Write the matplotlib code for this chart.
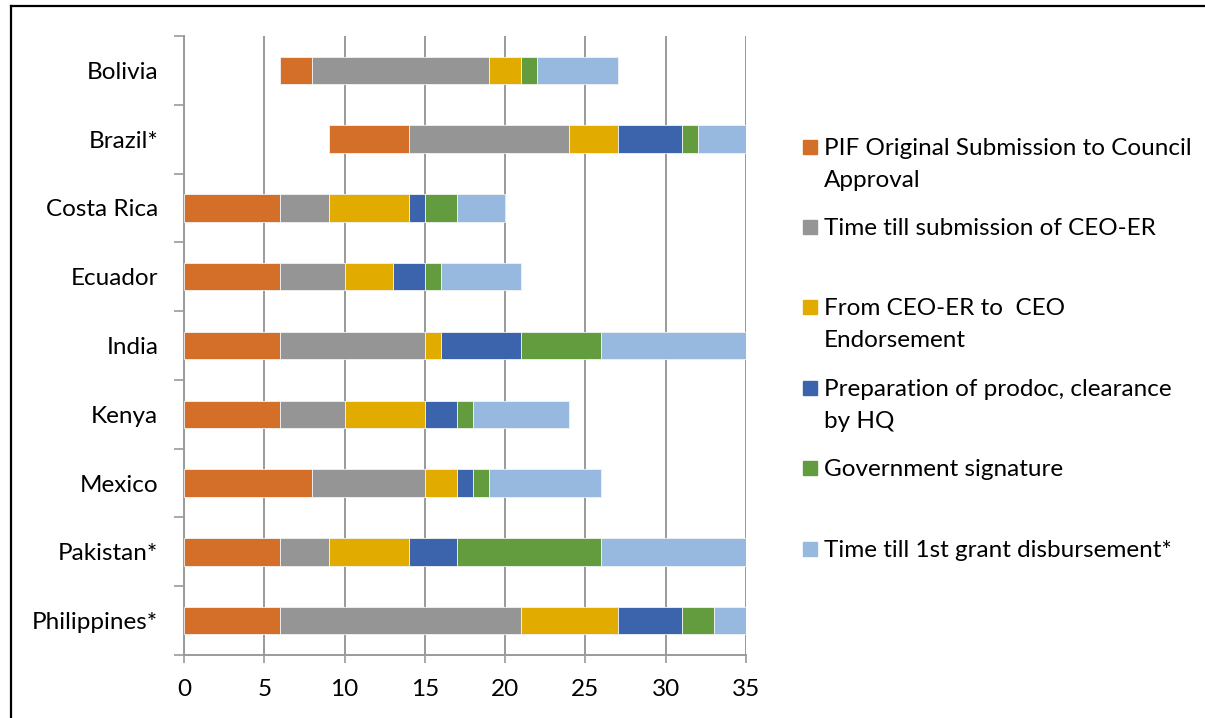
import numpy as np
import matplotlib.pyplot as plt
from matplotlib.patches import Rectangle
from matplotlib.lines import Line2D

plt.rcParams['font.family'] = ['Lato', 'DejaVu Sans']

# data (months)
countries = ['Bolivia', 'Brazil*', 'Costa Rica', 'Ecuador', 'India',
             'Kenya', 'Mexico', 'Pakistan*', 'Philippines*']
start_offset = [6, 9, 0, 0, 0, 0, 0, 0, 0]   # hidden first series
pif_to_council = [2, 5, 6, 6, 6, 6, 8, 6, 6]
till_ceo_er = [11, 10, 3, 4, 9, 4, 7, 3, 15]
ceo_er_to_endorse = [2, 3, 5, 3, 1, 5, 2, 5, 6]
prodoc_clearance = [0, 4, 1, 2, 5, 2, 1, 3, 4]
gov_signature = [1, 1, 2, 1, 5, 1, 1, 9, 2]
till_disbursement = [5, 3, 3, 5, 9, 6, 7, 9, 2]

series_labels = [
    'PIF Original Submission to Council\nApproval',
    'Time till submission of CEO-ER',
    'From CEO-ER to  CEO\nEndorsement',
    'Preparation of prodoc, clearance\nby HQ',
    'Government signature',
    'Time till 1st grant disbursement*',
]
colors = ['#D46F2A', '#959595', '#E2AB00', '#3C64AC', '#639B3F', '#97B9E0']

series = [pif_to_council, till_ceo_er, ceo_er_to_endorse,
          prodoc_clearance, gov_signature, till_disbursement]

FS = 17.5

fig = plt.figure(figsize=(12.05, 7.18), dpi=100)
ax = fig.add_axes([0.1527, 0.0877, 0.4664, 0.8622])

y = np.arange(len(countries))
left = np.array(start_offset, dtype=float)
for vals, col in zip(series, colors):
    vals = np.array(vals, dtype=float)
    ax.barh(y, vals, left=left, height=0.4, color=col,
            edgecolor='#f2f2f2', linewidth=0.6, zorder=3)
    left += vals

ax.set_xlim(0, 35)
ax.set_ylim(len(countries) - 0.5, -0.5)
ax.set_xticks(np.arange(0, 36, 5))
ax.xaxis.grid(True, color='#9a9a9a', linewidth=1.4, zorder=0)
ax.tick_params(axis='x', labelsize=FS, length=6, color='#9a9a9a',
               width=1.2, pad=11)

# tick marks at category boundaries, labels at centres
ax.set_yticks(np.arange(-0.5, len(countries), 1.0))
ax.set_yticklabels([])
ax.set_yticks(y, minor=True)
ax.set_yticklabels(countries, minor=True)
ax.tick_params(axis='y', which='major', length=7, color='#9a9a9a', width=1.2)
ax.tick_params(axis='y', which='minor', length=0, labelsize=FS, pad=18.5)

for s in ['top', 'right']:
    ax.spines[s].set_visible(False)
for s in ['left', 'bottom']:
    ax.spines[s].set_color('#9a9a9a')
    ax.spines[s].set_linewidth(1.4)

# legend drawn by hand to keep the uneven spacing of the original
legend_y = [147, 227, 307, 388, 468, 549]   # pixel centre of each first line
W, H = 1205, 718
for lab, col, py in zip(series_labels, colors, legend_y):
    fy = 1 - py / H
    fig.patches.append(Rectangle((803 / W, fy - 7 / H), 14 / W, 14 / H,
                                 transform=fig.transFigure, color=col))
    fig.text(824 / W, fy + 9 / H, lab, fontsize=FS, va='top',
             ha='left', linespacing=1.64)

# page frame around the chart
fig.add_artist(Line2D([11 / W, 11 / W], [0, 1 - 6 / H],
                      transform=fig.transFigure, color='black', linewidth=1.6))
fig.add_artist(Line2D([11 / W, 1], [1 - 6 / H, 1 - 6 / H],
                      transform=fig.transFigure, color='black', linewidth=1.6))

fig.savefig('out.png', dpi=100)
